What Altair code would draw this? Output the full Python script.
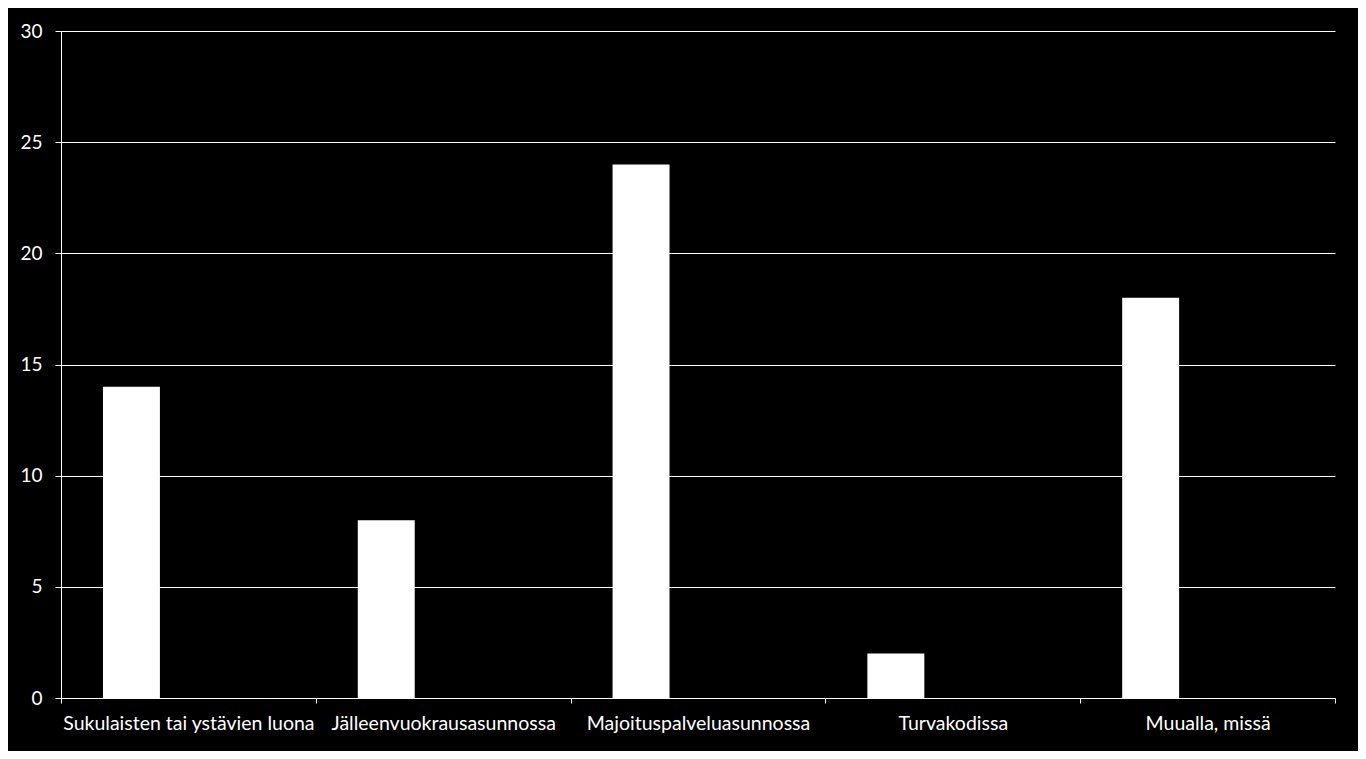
import altair as alt
import pandas as pd

categories = ["Sukulaisten tai ystävien luona", "Jälleenvuokrausasunnossa",
              "Majoituspalveluasunnossa", "Turvakodissa", "Muualla, missä"]
values = [14, 8, 24, 2, 18]
series = ["A", "B", "C"]

df = pd.DataFrame({"category": categories, "value": values, "series": ["A"] * len(categories)})

FONT = "Lato"

chart = alt.Chart(df).mark_bar(color="white").encode(
    x=alt.X("category:N", sort=categories,
            scale=alt.Scale(paddingInner=0, paddingOuter=0),
            axis=alt.Axis(title=None, labelAngle=0, tickBand="extent", grid=False,
                          domainColor="white", tickColor="white", tickSize=5,
                          labelColor="white", labelFont=FONT, labelFontSize=19.5,
                          labelLimit=0, labelPadding=11)),
    xOffset=alt.XOffset("series:N", scale=alt.Scale(domain=series, paddingInner=0, paddingOuter=0.737)),
    y=alt.Y("value:Q", scale=alt.Scale(domain=[0, 30]),
            axis=alt.Axis(title=None, values=[0, 5, 10, 15, 20, 25, 30], grid=True,
                          gridColor="white", gridOpacity=1, gridWidth=1,
                          domainColor="white", tickColor="white", tickSize=6,
                          labelColor="white", labelFont=FONT, labelFontSize=19,
                          labelPadding=13)),
).properties(
    width=1274, height=667,
    background="black",
    autosize=alt.AutoSizeParams(type="none"),
    padding={"left": 53, "top": 23, "right": 23, "bottom": 53},
).configure_view(stroke=None)

chart.save("out.html", embed_options={"renderer": "svg", "actions": False})
